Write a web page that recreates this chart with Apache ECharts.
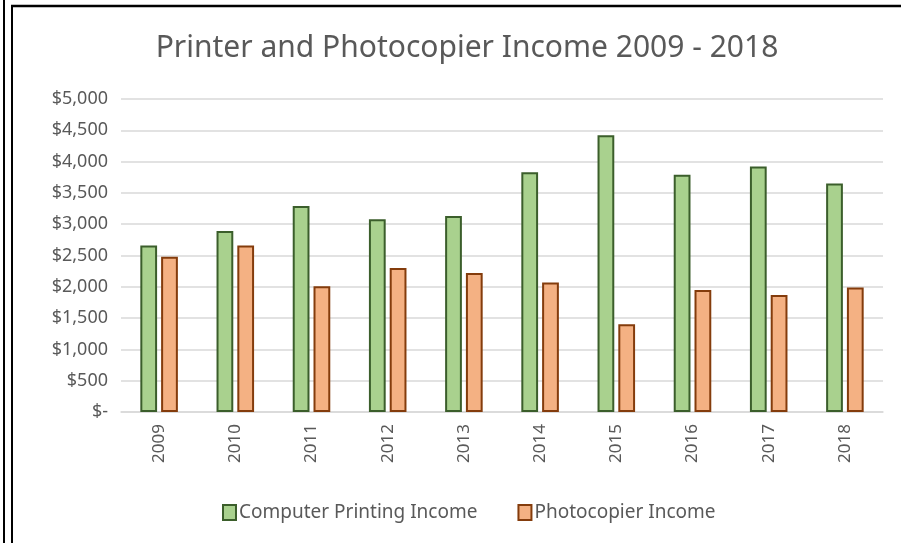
<!DOCTYPE html>
<html>
<head>
<meta charset="utf-8">
<script src="https://cdn.jsdelivr.net/npm/echarts@6/dist/echarts.min.js"></script>
<style>
html,body{margin:0;padding:0;background:#fff;}
#chart{width:901px;height:543px;}
</style>
</head>
<body>
<div id="chart"></div>
<script>
const categories = ['2009','2010','2011','2012','2013','2014','2015','2016','2017','2018'];
const computerPrinting = [2660, 2890, 3290, 3080, 3130, 3830, 4420, 3790, 3920, 3650];
const photocopier = [2480, 2660, 2010, 2300, 2220, 2070, 1400, 1950, 1870, 1990];
const yTicks = {min: 0, max: 5000, interval: 500};
const titleText = 'Printer and Photocopier Income 2009 - 2018';
const seriesNames = ['Computer Printing Income', 'Photocopier Income'];

const FONT = 'Noto Sans';
const chart = echarts.init(document.getElementById('chart'), null, {renderer: 'canvas'});
function money(v){
  if (v === 0) return '$-';
  return '$' + v.toLocaleString('en-US');
}
chart.setOption({
  animation: false,
  backgroundColor: '#fff',
  title: {
    text: titleText,
    left: 462, top: 28, textAlign: 'center',
    textStyle: {fontFamily: FONT, fontSize: 30, fontWeight: 'normal', color: '#595959'}
  },
  legend: {
    data: seriesNames,
    left: 217, top: 498, itemWidth: 13, itemHeight: 15, itemGap: 40,
    icon: 'rect',
    textStyle: {fontFamily: FONT, fontSize: 19, color: '#595959', padding: [0,0,0,-2]}
  },
  grid: {left: 121, right: 18, top: 99, bottom: 131, containLabel: false},
  xAxis: {
    type: 'category', data: categories,
    axisLine: {show: true, lineStyle: {color: '#D9D9D9', width: 1.5}},
    axisTick: {show: false},
    axisLabel: {rotate: 90, fontFamily: FONT, fontSize: 17, color: '#595959', margin: 12}
  },
  yAxis: {
    type: 'value', min: yTicks.min, max: yTicks.max, interval: yTicks.interval,
    axisLine: {show: false}, axisTick: {show: false},
    splitLine: {lineStyle: {color: '#D9D9D9', width: 1.5}},
    axisLabel: {formatter: money, fontFamily: FONT, fontSize: 18, color: '#595959', margin: 13}
  },
  series: [
    {
      name: seriesNames[0], type: 'bar', data: computerPrinting,
      barWidth: '22%', barGap: '24%',
      itemStyle: {color: '#A9D18E', borderColor: '#3B5E2B', borderWidth: 2}
    },
    {
      name: seriesNames[1], type: 'bar', data: photocopier,
      barWidth: '22%', barGap: '24%',
      itemStyle: {color: '#F4B183', borderColor: '#843C0C', borderWidth: 2}
    }
  ],
  graphic: [
    {type: 'line', shape: {x1: 4, y1: 0, x2: 4, y2: 543}, style: {stroke: '#000', lineWidth: 2}},
    {type: 'line', shape: {x1: 12, y1: 5, x2: 12, y2: 543}, style: {stroke: '#000', lineWidth: 2}},
    {type: 'line', shape: {x1: 11, y1: 6, x2: 901, y2: 6}, style: {stroke: '#000', lineWidth: 2.5}}
  ]
});
</script>
</body>
</html>
